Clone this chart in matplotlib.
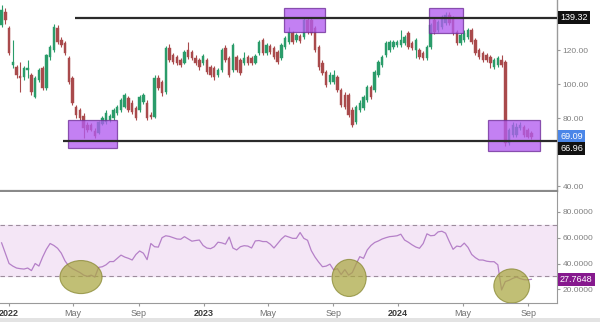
import matplotlib
matplotlib.use('Agg')
import matplotlib.pyplot as plt
import matplotlib.dates as mdates
from matplotlib.patches import Rectangle, Ellipse
import numpy as np
import pandas as pd

plt.rcParams['font.family'] = ['Liberation Sans', 'DejaVu Sans']

# ---------------- data (weekly candles) ----------------
start_date = '2021-12-18'
opens = [135.0,142.6,133.2,111.5,110.3,105.0,104.4,108.5,105.6,92.6,
         102.6,109.7,97.9,116.2,120.3,133.2,126.2,124.4,115.6,103.8,
         86.8,85.0,81.5,76.2,76.2,72.7,71.5,76.8,77.9,79.1,
         80.3,83.2,85.0,86.8,92.1,89.1,86.2,85.0,89.7,89.1,
         82.1,80.9,103.8,101.5,95.6,121.5,117.4,116.2,114.4,112.6,
         120.3,119.1,115.6,114.4,112.6,114.4,110.3,109.7,105.6,108.5,
         121.5,115.6,108.5,116.2,114.4,112.6,116.2,115.6,112.6,118.5,
         126.2,118.5,122.6,121.5,119.1,115.6,122.1,125.0,130.3,126.2,
         128.5,127.9,137.9,137.9,133.2,122.1,112.6,107.4,101.5,101.5,
         104.4,96.8,93.8,93.8,85.0,77.9,85.0,86.2,90.9,98.5,
         96.8,105.6,111.5,117.4,120.3,122.1,123.2,123.2,124.4,130.3,
         124.4,120.3,120.3,118.5,115.6,122.1,137.9,132.1,133.8,136.2,
         140.9,139.1,130.9,124.4,126.2,127.9,132.1,126.2,120.3,118.5,
         117.4,116.2,110.3,111.5,114.4,113.2,65.6,70.3,70.3,74.4,
         75.0,73.2,71.5]
closes = [143.8,137.9,118.5,113.2,105.6,103.8,109.7,109.7,95.6,103.8,
          108.5,97.9,117.4,122.1,133.8,125.0,123.2,118.5,101.5,89.1,
          82.1,80.3,74.4,73.2,73.2,69.7,77.9,80.3,83.2,81.5,
          85.0,86.8,90.9,93.8,85.0,83.8,80.3,92.6,93.8,80.3,
          80.9,103.8,97.9,95.0,121.5,114.4,113.2,112.6,111.5,119.1,
          116.2,115.6,112.6,110.3,116.8,107.4,105.6,104.4,108.5,120.3,
          114.4,105.6,123.2,108.5,106.8,115.6,112.6,112.6,116.8,125.0,
          118.5,123.2,119.1,116.2,113.2,123.2,127.4,130.9,125.0,129.1,
          125.6,137.9,130.9,130.3,120.3,110.3,106.8,99.7,105.6,105.6,
          96.8,87.9,86.8,82.1,76.2,86.8,89.1,92.6,98.5,92.6,
          107.4,113.2,116.2,124.4,125.0,125.0,125.0,126.2,127.9,122.1,
          121.5,126.2,116.2,115.6,122.1,135.0,130.9,136.8,139.7,140.9,
          136.2,130.3,124.4,129.1,130.3,132.1,125.0,118.5,116.2,114.4,
          114.4,112.6,114.4,115.6,111.5,65.6,73.2,76.2,75.0,76.2,
          70.3,69.1,69.09]
highs = [146.8,145.0,134.4,126.2,111.5,113.2,110.9,114.4,106.8,105.0,
         109.7,110.9,117.9,123.2,135.6,135.0,127.9,125.6,116.8,105.0,
         87.9,86.2,83.2,77.9,77.4,74.4,78.5,81.5,85.0,82.7,
         86.2,87.9,92.1,95.0,93.2,90.9,87.4,93.8,95.0,90.9,
         83.8,105.6,105.6,102.6,122.6,123.8,118.5,117.4,115.6,120.3,
         125.0,120.3,117.4,115.6,117.9,115.6,111.5,110.9,109.7,121.5,
         123.2,116.8,124.4,117.4,115.6,119.1,117.4,116.8,117.9,126.2,
         127.4,124.4,123.8,122.6,120.3,124.4,128.5,133.8,131.5,130.3,
         129.7,139.7,139.7,139.1,134.4,123.2,114.4,108.5,107.4,108.5,
         105.6,97.9,95.6,95.0,86.8,87.9,90.9,93.8,99.7,99.7,
         108.5,114.4,117.4,125.6,126.2,126.2,126.2,132.1,129.1,131.5,
         125.6,127.4,121.5,119.7,123.2,136.2,139.1,137.9,140.9,142.6,
         142.6,140.3,132.1,130.3,132.1,133.2,133.2,127.4,121.5,119.7,
         118.5,117.4,115.6,116.8,117.4,114.4,74.4,77.9,77.4,77.9,
         76.2,74.4,72.7]
lows = [133.8,135.6,117.4,109.7,103.8,95.6,102.6,103.8,93.8,92.1,
        101.5,96.8,96.8,114.4,119.1,123.8,122.1,117.4,100.3,87.9,
        80.3,79.1,68.5,72.1,72.7,68.5,70.9,76.2,76.8,77.9,
        79.1,82.1,83.8,86.2,83.8,82.7,79.1,83.8,88.5,79.1,
        79.7,80.3,96.8,93.2,94.4,113.2,112.1,111.5,110.3,112.1,
        115.0,114.4,111.5,108.5,111.5,106.2,104.4,102.6,104.4,107.4,
        113.2,104.4,107.4,107.4,105.6,111.5,111.5,111.5,112.1,117.4,
        117.4,117.4,117.9,115.0,112.1,114.4,120.9,123.8,123.8,125.0,
        124.4,126.8,129.7,129.1,119.1,108.5,105.6,98.5,100.3,100.3,
        95.6,86.8,85.6,80.9,75.0,76.8,83.8,85.0,89.7,91.5,
        95.6,104.4,110.3,116.2,119.1,120.9,122.1,122.1,123.2,120.9,
        120.3,115.6,115.0,114.4,114.4,120.9,129.7,130.9,132.6,135.0,
        135.0,129.1,123.2,123.2,125.0,126.8,123.8,117.4,115.0,113.2,
        113.2,109.7,109.1,110.3,110.3,63.8,64.4,69.1,69.1,73.2,
        69.1,68.5,67.9]
rsi = [56,48,40,38,36.5,36,35.7,36.5,34.5,40,
       38,45,51,55.5,54,51.8,48,42,38,36,
       34.5,33,31,30,31,29.5,37,37.5,39,41.5,
       41.5,44,46.5,45,44,42.7,47,49.7,48,43,
       55.5,53,52.7,60,61.5,61,60,59,58.8,60.8,
       59,57.3,57.8,58.2,54,52,51.5,53,56.5,56,
       55,60.5,52,50.5,53,53.8,53.5,52,57.5,57.8,
       57,57,55,52,55.5,59,61.5,60.5,59.5,59.5,
       64,59.5,58,50,45,41,37.5,38,39.5,35,
       36,31.5,35.3,31,33,39.5,45.3,44,50.5,54,
       56.3,57.5,59,60,60.8,61.1,61.5,62.7,58.2,56.5,
       54.5,52.8,51.8,55.5,63,61.5,61.8,64.5,65,63.5,
       57,51,53.5,53,55.8,52.5,47,44.5,42.7,42.7,
       41.8,41.4,41.4,39,19.5,26,27,28.5,29.5,28.3,
       27.5,27.3,27.7648]

resistance = 139.32
support = 66.96
last_close = 69.09
last_rsi = 27.7648
res_start = '2022-05-05'
sup_start = '2022-04-13'

price_ticks = [40, 60, 80, 100, 120]
rsi_ticks = [20, 40, 60, 80]

# highlight boxes: (start, end, low, high)
box_start = ['2022-04-21', '2023-05-31', '2024-02-27', '2024-06-18']
box_end = ['2022-07-22', '2023-08-17', '2024-05-01', '2024-09-23']
box_low = [62.6, 130.7, 130.2, 60.8]
box_high = [79.1, 144.8, 145.1, 79.0]

# RSI ellipses: (center date, center rsi, width days, height rsi)
ell_center = ['2022-05-16', '2023-10-01', '2024-08-01']
ell_rsi = [29.5, 28.8, 22.6]
ell_w = [79, 64, 67]
ell_h = [25.6, 28.7, 26.4]

# ---------------- figure ----------------
fig = plt.figure(figsize=(6, 3.22), dpi=100)
W, H = 600, 322
ax = fig.add_axes([0, 1 - 191 / H, 557 / W, 191 / H])
ax2 = fig.add_axes([0, 1 - 303 / H, 557 / W, (303 - 192) / H])

dates = pd.date_range(start_date, periods=len(closes), freq='7D')
xd = mdates.date2num(dates)
o = np.array(opens); c = np.array(closes); h = np.array(highs); l = np.array(lows)
up = c >= o
green = '#2a9c6a'
red = '#a94a4c'
cols = np.where(up, green, red)

ax.vlines(xd, l, h, colors=cols, lw=0.8, zorder=2)
body_lo = np.minimum(o, c)
body_h = np.maximum(np.abs(c - o), 0.5)
ax.bar(xd, body_h, bottom=body_lo, width=4.6, color=cols, edgecolor=cols, lw=0.3, zorder=3)

x0 = mdates.date2num(pd.Timestamp('2021-12-15'))
x1 = mdates.date2num(pd.Timestamp('2024-10-25'))
ax.set_xlim(x0, x1)
ax.set_ylim(37.3, 149.7)

for s, e, lo_, hi_ in zip(box_start, box_end, box_low, box_high):
    xs = mdates.date2num(pd.Timestamp(s)); xe = mdates.date2num(pd.Timestamp(e))
    ax.add_patch(Rectangle((xs, lo_), xe - xs, hi_ - lo_, facecolor='#b25cf0',
                           alpha=0.78, edgecolor='#6f2f99', lw=0.9, zorder=4))

ax.hlines(resistance, mdates.date2num(pd.Timestamp(res_start)), x1, color='#2b2b2b', lw=1.6, zorder=5)
ax.hlines(support, mdates.date2num(pd.Timestamp(sup_start)), x1, color='#2b2b2b', lw=1.6, zorder=5)

for sp in ['top', 'left']:
    ax.spines[sp].set_visible(False)
ax.spines['right'].set_color('#9a9a9a')
ax.spines['right'].set_linewidth(1.0)
ax.spines['bottom'].set_color('#8a8a8a')
ax.spines['bottom'].set_linewidth(1.6)
ax.yaxis.tick_right()
ax.set_yticks(price_ticks)
ax.set_yticklabels([f'{v:.2f}' for v in price_ticks])
ax.tick_params(axis='y', length=2.5, color='#999999', labelcolor='#808080', labelsize=6, pad=1.5)
ax.tick_params(axis='x', bottom=False, labelbottom=False)

def price_tag(axis, txt, yv, fc, dy=0):
    axis.annotate(txt, xy=(1, yv), xycoords=('axes fraction', 'data'),
                  xytext=(2.2, dy), textcoords='offset points', ha='left', va='center',
                  fontsize=6.5, color='white', zorder=10, annotation_clip=False,
                  bbox=dict(boxstyle='square,pad=0.22', fc=fc, ec='none'))

price_tag(ax, f'{resistance:.2f}', resistance, '#111111')
price_tag(ax, f'{last_close:.2f}', last_close, '#4a86e8')
price_tag(ax, f'{support:.2f}', support, '#111111', dy=-6)

# ---------------- RSI panel ----------------
ax2.axhspan(30, 70, color='#f4e6f6', zorder=0)
ax2.axhline(70, color='#9c8c9c', lw=0.8, ls=(0, (4, 3)), zorder=1)
ax2.axhline(30, color='#9c8c9c', lw=0.8, ls=(0, (4, 3)), zorder=1)
ax2.plot(xd, rsi, color='#b580c8', lw=0.9, zorder=2)

for cd, cr, w, hh in zip(ell_center, ell_rsi, ell_w, ell_h):
    ax2.add_patch(Ellipse((mdates.date2num(pd.Timestamp(cd)), cr), w, hh,
                          facecolor='#a9a740', alpha=0.72, edgecolor='#85852e', lw=0.8, zorder=3))

ax2.set_xlim(x0, x1)
ax2.set_ylim(9.4, 95.4)
ax2.spines['left'].set_visible(False)
ax2.spines['top'].set_visible(False)
ax2.spines['right'].set_color('#9a9a9a')
ax2.spines['bottom'].set_color('#9a9a9a')
ax2.yaxis.tick_right()
ax2.set_yticks(rsi_ticks)
ax2.set_yticklabels([f'{v:.4f}' for v in rsi_ticks])
ax2.tick_params(axis='y', length=2.5, color='#999999', labelcolor='#808080', labelsize=6, pad=1.5)

xt = []
xl = []
for yr in [2022, 2023, 2024]:
    for m in [1, 5, 9]:
        t = pd.Timestamp(year=yr, month=m, day=1)
        xt.append(mdates.date2num(t))
        xl.append(str(yr) if m == 1 else t.strftime('%b'))
ax2.set_xticks(xt)
ax2.set_xticklabels(xl)
ax2.tick_params(axis='x', length=2, color='#999999', labelsize=6.5, pad=2, labelcolor='#707070')
for lab in ax2.get_xticklabels():
    if lab.get_text().isdigit():
        lab.set_fontweight('bold')
        lab.set_color('#3a3a3a')

price_tag(ax2, f'{last_rsi:.4f}', last_rsi, '#86198e')

fig.patches.append(Rectangle((0, 0), 1, 4 / H, transform=fig.transFigure,
                             facecolor='#e3e3e3', edgecolor='none'))

fig.savefig('out.png', dpi=100)
